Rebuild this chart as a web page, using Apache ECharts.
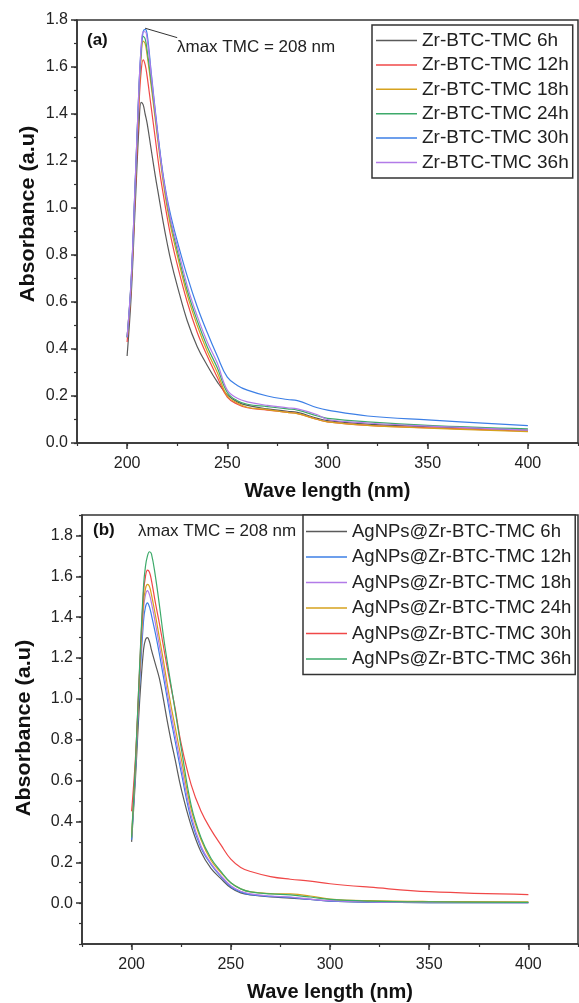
<!DOCTYPE html>
<html>
<head>
<meta charset="utf-8">
<script src="https://cdn.jsdelivr.net/npm/echarts@6/dist/echarts.min.js"></script>
<style>
  html, body { margin: 0; padding: 0; background: #fff; }
  #chart { width: 579px; height: 1003px; }
</style>
</head>
<body>
<div id="chart"></div>
<script>
// wavelength grid (nm) and tick values
const waveTop = [200, 202, 204, 206, 207, 208, 209, 210, 212, 214, 216, 218, 220, 222, 225, 230, 235, 240, 245, 250, 255, 260, 270, 280, 285, 295, 300, 320, 350, 400];
const waveBottom = [200, 202, 204, 206, 207, 208, 209, 210, 212, 214, 216, 218, 220, 222, 225, 230, 235, 240, 245, 250, 255, 260, 270, 280, 290, 300, 320, 350, 400];
const xTicks = [200, 250, 300, 350, 400];
const yTicks = [0, 0.2, 0.4, 0.6, 0.8, 1.0, 1.2, 1.4, 1.6, 1.8];

// (a) Zr-BTC-TMC
const topNames = ['Zr-BTC-TMC 6h', 'Zr-BTC-TMC 12h', 'Zr-BTC-TMC 18h', 'Zr-BTC-TMC 24h', 'Zr-BTC-TMC 30h', 'Zr-BTC-TMC 36h'];
const zr6h  = [0.37, 0.62, 1.00, 1.36, 1.45, 1.44, 1.40, 1.36, 1.25, 1.14, 1.04, 0.94, 0.85, 0.77, 0.67, 0.52, 0.41, 0.33, 0.26, 0.205, 0.175, 0.16, 0.145, 0.135, 0.13, 0.105, 0.095, 0.08, 0.07, 0.055];
const zr12h = [0.43, 0.66, 1.05, 1.45, 1.58, 1.63, 1.61, 1.56, 1.43, 1.30, 1.17, 1.06, 0.96, 0.87, 0.76, 0.60, 0.47, 0.37, 0.28, 0.195, 0.165, 0.15, 0.14, 0.13, 0.125, 0.10, 0.09, 0.075, 0.065, 0.05];
const zr18h = [0.45, 0.68, 1.08, 1.50, 1.64, 1.71, 1.70, 1.65, 1.52, 1.38, 1.24, 1.11, 1.00, 0.91, 0.80, 0.63, 0.50, 0.39, 0.30, 0.20, 0.17, 0.152, 0.142, 0.13, 0.125, 0.10, 0.09, 0.075, 0.063, 0.048];
const zr24h = [0.45, 0.68, 1.09, 1.52, 1.66, 1.73, 1.72, 1.67, 1.54, 1.40, 1.26, 1.13, 1.02, 0.93, 0.82, 0.65, 0.52, 0.41, 0.32, 0.215, 0.18, 0.165, 0.155, 0.145, 0.14, 0.115, 0.105, 0.09, 0.075, 0.06];
const zr30h = [0.45, 0.69, 1.10, 1.53, 1.68, 1.75, 1.76, 1.74, 1.58, 1.42, 1.27, 1.14, 1.04, 0.96, 0.86, 0.71, 0.58, 0.47, 0.37, 0.28, 0.245, 0.225, 0.20, 0.185, 0.18, 0.15, 0.14, 0.115, 0.098, 0.074];
const zr36h = [0.45, 0.69, 1.10, 1.53, 1.68, 1.75, 1.75, 1.72, 1.57, 1.41, 1.26, 1.13, 1.03, 0.94, 0.84, 0.67, 0.54, 0.43, 0.34, 0.225, 0.19, 0.175, 0.16, 0.15, 0.145, 0.12, 0.10, 0.085, 0.072, 0.055];

// (b) AgNPs@Zr-BTC-TMC
const bottomNames = ['AgNPs@Zr-BTC-TMC 6h', 'AgNPs@Zr-BTC-TMC 12h', 'AgNPs@Zr-BTC-TMC 18h', 'AgNPs@Zr-BTC-TMC 24h', 'AgNPs@Zr-BTC-TMC 30h', 'AgNPs@Zr-BTC-TMC 36h'];
const ag6h  = [0.30, 0.62, 0.98, 1.24, 1.29, 1.30, 1.28, 1.24, 1.17, 1.10, 1.00, 0.89, 0.79, 0.70, 0.56, 0.38, 0.25, 0.17, 0.12, 0.075, 0.05, 0.04, 0.03, 0.025, 0.018, 0.01, 0.005, 0.003, 0.002];
const ag12h = [0.31, 0.66, 1.06, 1.38, 1.45, 1.47, 1.45, 1.41, 1.32, 1.22, 1.11, 1.00, 0.89, 0.79, 0.64, 0.41, 0.27, 0.19, 0.13, 0.08, 0.055, 0.042, 0.033, 0.028, 0.018, 0.01, 0.005, 0.003, 0.002];
const ag18h = [0.32, 0.68, 1.10, 1.44, 1.51, 1.53, 1.51, 1.47, 1.37, 1.26, 1.15, 1.03, 0.92, 0.82, 0.67, 0.43, 0.28, 0.195, 0.135, 0.085, 0.058, 0.045, 0.035, 0.03, 0.02, 0.012, 0.006, 0.004, 0.003];
const ag24h = [0.33, 0.69, 1.12, 1.47, 1.54, 1.56, 1.55, 1.51, 1.41, 1.30, 1.19, 1.07, 0.96, 0.86, 0.71, 0.46, 0.31, 0.21, 0.15, 0.10, 0.07, 0.055, 0.047, 0.045, 0.035, 0.02, 0.012, 0.008, 0.006];
const ag30h = [0.45, 0.72, 1.14, 1.52, 1.60, 1.63, 1.62, 1.58, 1.47, 1.37, 1.26, 1.15, 1.05, 0.95, 0.78, 0.58, 0.45, 0.36, 0.285, 0.215, 0.175, 0.155, 0.13, 0.117, 0.108, 0.095, 0.078, 0.056, 0.042];
const ag36h = [0.32, 0.70, 1.15, 1.55, 1.65, 1.70, 1.72, 1.71, 1.60, 1.46, 1.31, 1.18, 1.06, 0.94, 0.76, 0.48, 0.32, 0.22, 0.155, 0.10, 0.07, 0.055, 0.045, 0.04, 0.03, 0.018, 0.01, 0.006, 0.004];

const topValues = [zr6h, zr12h, zr18h, zr24h, zr30h, zr36h];
const bottomValues = [ag6h, ag12h, ag18h, ag24h, ag30h, ag36h];
const topColors = ['#5a5a5a', '#f04848', '#d6a21e', '#3daa6a', '#3c7fe6', '#b27be8'];
const bottomColors = ['#5a5a5a', '#3c7fe6', '#b27be8', '#d6a21e', '#f04848', '#3daa6a'];

const FONT = '"Liberation Sans", Arial, sans-serif';
const AXIS_COLOR = '#333';

const chart = echarts.init(document.getElementById('chart'));

function pairs(wave, vals) {
    return wave.map((w, i) => [w, vals[i]]);
}

function majorX(gridIndex, nameGap) {
    return {
        type: 'value', gridIndex, min: 175, max: 425, position: 'bottom',
        axisLine: { show: true, onZero: false, lineStyle: { color: AXIS_COLOR, width: 1.5 } },
        axisTick: { show: true, length: 6, customValues: xTicks, lineStyle: { color: AXIS_COLOR, width: 1.5 } },
        axisLabel: { customValues: xTicks, fontSize: 16, color: '#222', fontFamily: FONT, margin: 13 },
        splitLine: { show: false },
        name: 'Wave length (nm)', nameLocation: 'middle', nameGap,
        nameTextStyle: { fontSize: 20, fontWeight: 'bold', color: '#111', fontFamily: FONT }
    };
}

function minorX(gridIndex) {
    return {
        type: 'value', gridIndex, min: 175, max: 425, interval: 25, position: 'bottom',
        axisLine: { show: false, onZero: false },
        axisTick: { show: true, length: 3, lineStyle: { color: AXIS_COLOR, width: 1.2 } },
        axisLabel: { show: false },
        splitLine: { show: false }
    };
}

function majorY(gridIndex, min, max) {
    return {
        type: 'value', gridIndex, min, max, position: 'left',
        axisLine: { show: true, onZero: false, lineStyle: { color: AXIS_COLOR, width: 1.5 } },
        axisTick: { show: true, length: 6, customValues: yTicks, lineStyle: { color: AXIS_COLOR, width: 1.5 } },
        axisLabel: { customValues: yTicks, fontSize: 16, color: '#222', fontFamily: FONT, margin: 9,
            formatter: (v) => v.toFixed(1) },
        splitLine: { show: false }
    };
}

function minorY(gridIndex, min, max) {
    return {
        type: 'value', gridIndex, min, max, interval: 0.1, position: 'left',
        axisLine: { show: false, onZero: false },
        axisTick: { show: true, length: 3, lineStyle: { color: AXIS_COLOR, width: 1.2 } },
        axisLabel: { show: false },
        splitLine: { show: false }
    };
}

function legendBox(names, left, top, gap, size, pad) {
    return {
        orient: 'vertical', left, top, data: names,
        icon: 'rect', itemWidth: 41, itemHeight: 1.5, itemGap: gap,
        padding: pad,
        borderColor: AXIS_COLOR, borderWidth: 1.5, backgroundColor: '#fff',
        textStyle: { fontSize: size, color: '#222', fontFamily: FONT }
    };
}

function yTitle(x, y) {
    return {
        type: 'text', x, y, rotation: Math.PI / 2, scaleX: 1.08,
        style: { text: 'Absorbance (a.u)', fontSize: 20, fontWeight: 'bold', fill: '#111',
            fontFamily: FONT, align: 'center', verticalAlign: 'middle' }
    };
}

const series = [];
topNames.forEach((name, i) => {
    series.push({
        name, type: 'line', xAxisIndex: 0, yAxisIndex: 0,
        data: pairs(waveTop, topValues[i]),
        symbol: 'none', smooth: 0.4,
        lineStyle: { width: 1.2, color: topColors[i] },
        itemStyle: { color: topColors[i] },
        markLine: i === 4 ? {
            silent: true, symbol: 'none', label: { show: false },
            lineStyle: { color: '#333', width: 1, type: 'solid' },
            data: [[{ coord: [209, 1.765] }, { coord: [225, 1.725] }]]
        } : undefined
    });
});
bottomNames.forEach((name, i) => {
    series.push({
        name, type: 'line', xAxisIndex: 2, yAxisIndex: 2,
        data: pairs(waveBottom, bottomValues[i]),
        symbol: 'none', smooth: 0.4,
        lineStyle: { width: 1.2, color: bottomColors[i] },
        itemStyle: { color: bottomColors[i] }
    });
});

const option = {
    backgroundColor: '#fff',
    animation: false,
    grid: [
        { left: 77, top: 20, right: 1, bottom: 560, show: true, borderColor: AXIS_COLOR, borderWidth: 1.5 },
        { left: 82, top: 515, right: 1, bottom: 59, show: true, borderColor: AXIS_COLOR, borderWidth: 1.5 }
    ],
    xAxis: [majorX(0, 38), minorX(0), majorX(1, 38), minorX(1)],
    yAxis: [majorY(0, 0, 1.8), minorY(0, 0, 1.8), majorY(1, -0.2, 1.9), minorY(1, -0.2, 1.9)],
    legend: [
        legendBox(topNames, 372, 25, 5.4, 19, [6, 4, 6, 4]),
        legendBox(bottomNames, 303, 515, 6.5, 18.5, [7, 4, 6, 3])
    ],
    graphic: [
        yTitle(28, 214),
        yTitle(24, 728),
        { type: 'text', left: 87, top: 32, style: { text: '(a)', fontSize: 17, fontWeight: 'bold', fill: '#111', fontFamily: FONT } },
        { type: 'text', left: 177, top: 39, style: { text: 'λmax TMC = 208 nm', fontSize: 17, fill: '#222', fontFamily: FONT } },
        { type: 'text', left: 93, top: 522, style: { text: '(b)', fontSize: 17, fontWeight: 'bold', fill: '#111', fontFamily: FONT } },
        { type: 'text', left: 138, top: 523, style: { text: 'λmax TMC = 208 nm', fontSize: 17, fill: '#222', fontFamily: FONT } }
    ],
    series
};

chart.setOption(option);
</script>
</body>
</html>
